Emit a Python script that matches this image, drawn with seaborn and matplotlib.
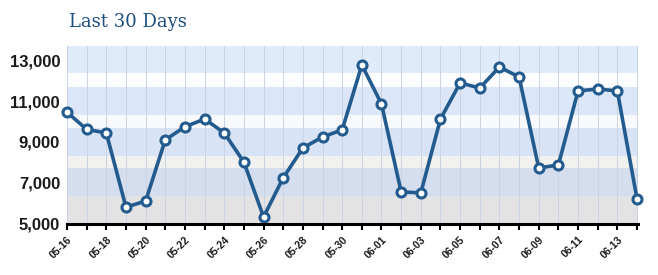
import matplotlib
matplotlib.use("Agg")
import matplotlib.pyplot as plt
import seaborn as sns
import pandas as pd
import numpy as np

dates = ["05-16", "05-17", "05-18", "05-19", "05-20", "05-21", "05-22", "05-23",
         "05-24", "05-25", "05-26", "05-27", "05-28", "05-29", "05-30", "05-31",
         "06-01", "06-02", "06-03", "06-04", "06-05", "06-06", "06-07", "06-08",
         "06-09", "06-10", "06-11", "06-12", "06-13", "06-14"]
visits = [10460, 9610, 9440, 5800, 6100, 9100, 9740, 10120,
          9440, 8010, 5320, 7240, 8700, 9240, 9590, 12770,
          10860, 6550, 6500, 10120, 11890, 11640, 12670, 12180,
          7720, 7870, 11500, 11590, 11500, 6200]
y_ticks = [5000, 7000, 9000, 11000, 13000]
title = "Last 30 Days"

df = pd.DataFrame({"idx": np.arange(len(dates)), "date": dates, "visits": visits})

sns.set_style("white")
fig = plt.figure(figsize=(6.58, 2.75), dpi=100)
ax = fig.add_axes([67/658, 51.5/275, 571/658, 177.5/275])

# background stripes
bands = [
    (12377, 13700, "#dfeafa"),
    (11691, 12377, "#fdfeff"),
    (10319, 11691, "#dbe7f8"),
    (9681, 10319, "#f7f9fc"),
    (8309, 9681, "#d8e3f5"),
    (7721, 8309, "#f1f1ef"),
    (6348, 7721, "#d4deef"),
    (5000, 6348, "#e3e3e3"),
]
for lo, hi, c in bands:
    ax.axhspan(lo, hi, color=c, zorder=0, lw=0)

for i in range(len(dates)):
    ax.axvline(i, color="#c9d3e2", lw=0.7, zorder=1)

sns.lineplot(data=df, x="idx", y="visits", ax=ax, color="#235b8e", lw=2.6,
             marker="o", markersize=6.5, markerfacecolor="white",
             markeredgecolor="#235b8e", markeredgewidth=2.2, zorder=5,
             clip_on=False)

ax.set_xlim(0, 29.05)
ax.set_ylim(5000, 13700)
ax.set_yticks(y_ticks)
ax.set_yticklabels([f"{v:,}" for v in y_ticks], fontsize=12, fontweight="bold",
                   family="Liberation Sans", color="#1a1a1a")
ax.set_xticks(range(len(dates)))
ax.set_xticklabels([d if i % 2 == 0 else "" for i, d in enumerate(dates)],
                   rotation=45, ha="right", rotation_mode="anchor",
                   fontsize=7.5, fontweight="bold", family="Liberation Sans",
                   color="#1a1a1a")
ax.tick_params(axis="x", length=4, width=1.5, color="black", pad=4, bottom=True)
ax.tick_params(axis="y", length=0, pad=5)
for s in ["top", "right", "left"]:
    ax.spines[s].set_visible(False)
ax.spines["bottom"].set_color("black")
ax.spines["bottom"].set_linewidth(2.2)
ax.spines["bottom"].set_zorder(6)
ax.set_xlabel("")
ax.set_ylabel("")

fig.text(69/658, 1 - 22/275, title, fontsize=13, family="DejaVu Serif",
         color="#1f4f7f", va="center", ha="left")

fig.savefig("out.png", dpi=100, facecolor="white")
